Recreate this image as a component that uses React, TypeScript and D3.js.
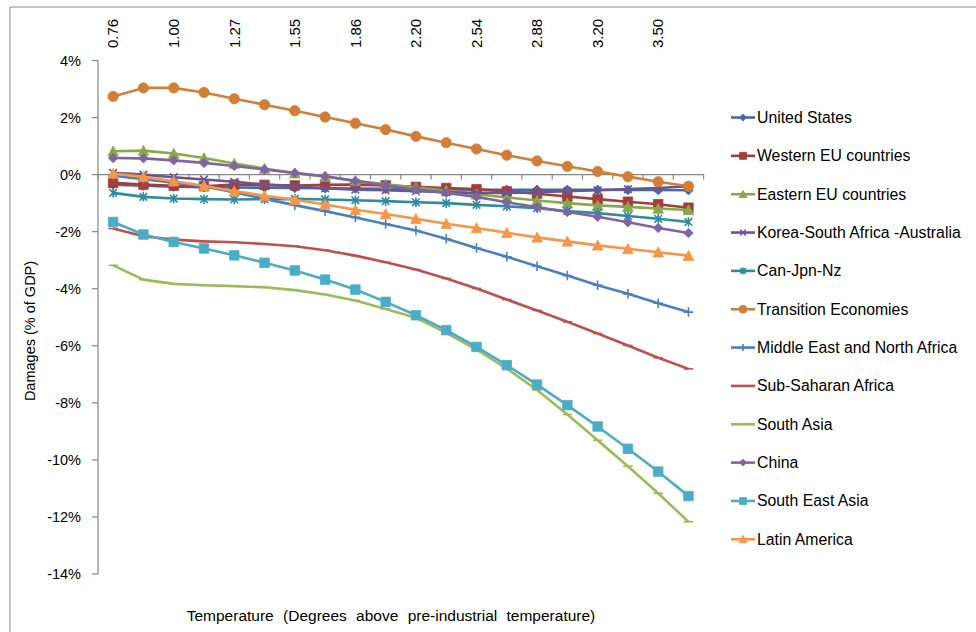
import React from "react";
import * as d3 from "d3";

const temperatures = ["0.76","0.88","1.00","1.13","1.27","1.41","1.55","1.70","1.86","2.03","2.20","2.37","2.54","2.71","2.88","3.04","3.20","3.35","3.50","3.65"];
const shownTickLabels = ["0.76","1.00","1.27","1.55","1.86","2.20","2.54","2.88","3.20","3.50"];
const yTicks = [4, 2, 0, -2, -4, -6, -8, -10, -12, -14];

const unitedStates = [-0.35,-0.39,-0.42,-0.44,-0.45,-0.46,-0.47,-0.48,-0.49,-0.50,-0.51,-0.52,-0.53,-0.53,-0.53,-0.53,-0.53,-0.54,-0.54,-0.55];
const westernEU = [-0.29,-0.35,-0.39,-0.41,-0.35,-0.36,-0.38,-0.36,-0.35,-0.38,-0.43,-0.47,-0.51,-0.59,-0.67,-0.77,-0.86,-0.95,-1.04,-1.16];
const easternEU = [0.82,0.84,0.74,0.58,0.39,0.21,0.05,-0.07,-0.22,-0.34,-0.45,-0.56,-0.69,-0.80,-0.91,-1.00,-1.08,-1.13,-1.19,-1.24];
const koreaSAAus = [0.06,0.00,-0.09,-0.17,-0.25,-0.35,-0.41,-0.48,-0.53,-0.55,-0.58,-0.62,-0.64,-0.64,-0.62,-0.58,-0.55,-0.51,-0.47,-0.41];
const canJpnNz = [-0.64,-0.78,-0.84,-0.86,-0.87,-0.86,-0.85,-0.87,-0.90,-0.93,-0.97,-1.00,-1.06,-1.11,-1.18,-1.28,-1.35,-1.45,-1.55,-1.66];
const transitionEconomies = [2.74,3.04,3.04,2.88,2.66,2.45,2.24,2.02,1.80,1.58,1.34,1.12,0.90,0.68,0.48,0.29,0.11,-0.07,-0.25,-0.41];
const menaValues = [-0.04,-0.16,-0.28,-0.42,-0.62,-0.85,-1.07,-1.28,-1.50,-1.73,-1.96,-2.25,-2.57,-2.88,-3.21,-3.54,-3.88,-4.18,-4.51,-4.82];
const subSaharanAfrica = [-1.89,-2.16,-2.28,-2.34,-2.37,-2.43,-2.51,-2.65,-2.84,-3.07,-3.33,-3.64,-3.99,-4.38,-4.76,-5.16,-5.57,-5.99,-6.42,-6.81];
const southAsia = [-3.18,-3.68,-3.83,-3.88,-3.91,-3.95,-4.05,-4.20,-4.41,-4.71,-5.02,-5.55,-6.13,-6.80,-7.55,-8.41,-9.31,-10.22,-11.17,-12.17];
const china = [0.58,0.57,0.50,0.41,0.30,0.18,0.06,-0.06,-0.22,-0.38,-0.52,-0.64,-0.78,-0.97,-1.14,-1.31,-1.48,-1.67,-1.87,-2.05];
const southEastAsia = [-1.66,-2.10,-2.36,-2.59,-2.83,-3.09,-3.36,-3.68,-4.03,-4.46,-4.93,-5.45,-6.04,-6.68,-7.36,-8.08,-8.83,-9.61,-10.41,-11.27];
const latinAmerica = [0.04,-0.08,-0.23,-0.39,-0.58,-0.74,-0.88,-1.05,-1.23,-1.38,-1.55,-1.72,-1.87,-2.04,-2.20,-2.34,-2.48,-2.60,-2.72,-2.84];

const seriesNames = ["United States","Western EU countries","Eastern EU countries","Korea-South Africa -Australia","Can-Jpn-Nz","Transition Economies","Middle East and North Africa","Sub-Saharan Africa","South Asia","China","South East Asia","Latin America"];
const seriesValues = [unitedStates, westernEU, easternEU, koreaSAAus, canJpnNz, transitionEconomies, menaValues, subSaharanAfrica, southAsia, china, southEastAsia, latinAmerica];
const seriesColors = ["#3F6CAF","#A33E3B","#88A84A","#6D5491","#2E8BA0","#D27E36","#4A7FC1","#C0504D","#9BBB59","#8064A2","#4BACC6","#F79646"];
const seriesMarkers = ["diamond","square","triangle","x","star","circle","plus","dash","dash","diamond","square","triangle"];

const FONT = "'Liberation Sans', Arial, sans-serif";

function markerPath(kind: string, s: number): { d: string; filled: boolean } {
  const h = s / 2;
  switch (kind) {
    case "diamond":
      return { d: `M0,${-h}L${h},0L0,${h}L${-h},0Z`, filled: true };
    case "square":
      return { d: `M${-h},${-h}H${h}V${h}H${-h}Z`, filled: true };
    case "triangle":
      return { d: `M0,${-h - 0.5}L${h + 0.5},${h}L${-h - 0.5},${h}Z`, filled: true };
    case "circle":
      return { d: d3.symbol(d3.symbolCircle, Math.PI * (h + 0.4) * (h + 0.4))() as string, filled: true };
    case "x":
      return { d: `M${-h * 0.8},${-h * 0.8}L${h * 0.8},${h * 0.8}M${-h * 0.8},${h * 0.8}L${h * 0.8},${-h * 0.8}`, filled: false };
    case "star":
      return { d: `M${-h * 0.8},${-h * 0.8}L${h * 0.8},${h * 0.8}M${-h * 0.8},${h * 0.8}L${h * 0.8},${-h * 0.8}M0,${-h}L0,${h}`, filled: false };
    case "plus":
      return { d: `M${-h},0L${h},0M0,${-h}L0,${h}`, filled: false };
    case "dash":
    default:
      return { d: `M${-h},0L${h},0`, filled: false };
  }
}

function Marker({ kind, color, x, y, size }: { kind: string; color: string; x: number; y: number; size: number }) {
  const m = markerPath(kind, size);
  return (
    <path
      d={m.d}
      transform={`translate(${x},${y})`}
      fill={m.filled ? color : "none"}
      stroke={color}
      strokeWidth={m.filled ? 0.8 : 1.6}
    />
  );
}

export default function App() {
  const width = 976;
  const height = 632;
  const x = d3.scaleBand<string>().domain(temperatures).range([98, 703.6]);
  const y = d3.scaleLinear().domain([-14, 4]).range([574, 60.5]);
  const cx = (t: string) => (x(t) as number) + x.bandwidth() / 2;
  const line = d3
    .line<number>()
    .x((_, i) => cx(temperatures[i]))
    .y((v) => y(v));

  const boundaries = d3.range(temperatures.length + 1).map((k) => 98 + k * x.step());
  const legendY = d3.scaleLinear().domain([0, 11]).range([117.5, 539.3]);

  return (
    <div style={{ position: "absolute", left: 0, top: 0 }}>
      <svg width={width} height={height} style={{ display: "block", background: "#fff" }}>
        {/* chart frame */}
        <path d={`M10,${height}V7H${width}`} fill="none" stroke="#8C8C8C" strokeWidth={1} />

        {/* y axis */}
        <line x1={98} x2={98} y1={y(4)} y2={y(-14)} stroke="#868686" strokeWidth={1.2} />
        {yTicks.map((t) => (
          <g key={t}>
            <line x1={92} x2={98} y1={y(t)} y2={y(t)} stroke="#868686" strokeWidth={1.2} />
            <text x={81} y={y(t)} dy="0.35em" textAnchor="end" fontFamily={FONT} fontSize={14.5} fill="#000">
              {`${t}%`}
            </text>
          </g>
        ))}

        {/* x axis at zero */}
        <line x1={98} x2={703.6} y1={y(0)} y2={y(0)} stroke="#868686" strokeWidth={1.2} />
        {boundaries.map((b, i) => (
          <line key={i} x1={b} x2={b} y1={y(0)} y2={y(0) + 5} stroke="#868686" strokeWidth={1.2} />
        ))}
        {temperatures.map((t) =>
          shownTickLabels.includes(t) ? (
            <text
              key={t}
              transform={`translate(${cx(t)},48) rotate(-90)`}
              dy="0.35em"
              textAnchor="start"
              fontFamily={FONT}
              fontSize={15}
              fill="#000"
            >
              {t}
            </text>
          ) : null
        )}

        {/* series */}
        {seriesValues.map((vals, si) => (
          <g key={seriesNames[si]}>
            <path d={line(vals) as string} fill="none" stroke={seriesColors[si]} strokeWidth={2.6} strokeLinejoin="round" />
            {vals.map((v, i) => (
              <Marker key={i} kind={seriesMarkers[si]} color={seriesColors[si]} x={cx(temperatures[i])} y={y(v)} size={9.5} />
            ))}
          </g>
        ))}

        {/* axis titles */}
        <text x={391} y={616} dy="0.35em" textAnchor="middle" fontFamily={FONT} fontSize={15.5} wordSpacing={5} fill="#000">
          Temperature (Degrees above pre-industrial temperature)
        </text>
        <text transform="translate(30,331) rotate(-90)" dy="0.35em" textAnchor="middle" fontFamily={FONT} fontSize={14.5} fill="#000">
          Damages (% of GDP)
        </text>

        {/* legend */}
        {seriesNames.map((name, si) => {
          const ly = legendY(si);
          return (
            <g key={name}>
              <line x1={731} x2={755} y1={ly} y2={ly} stroke={seriesColors[si]} strokeWidth={2.6} />
              <Marker kind={seriesMarkers[si]} color={seriesColors[si]} x={743} y={ly} size={7} />
              <text x={757} y={ly} dy="0.35em" fontFamily={FONT} fontSize={15.8} fill="#000">
                {name}
              </text>
            </g>
          );
        })}
      </svg>
    </div>
  );
}
